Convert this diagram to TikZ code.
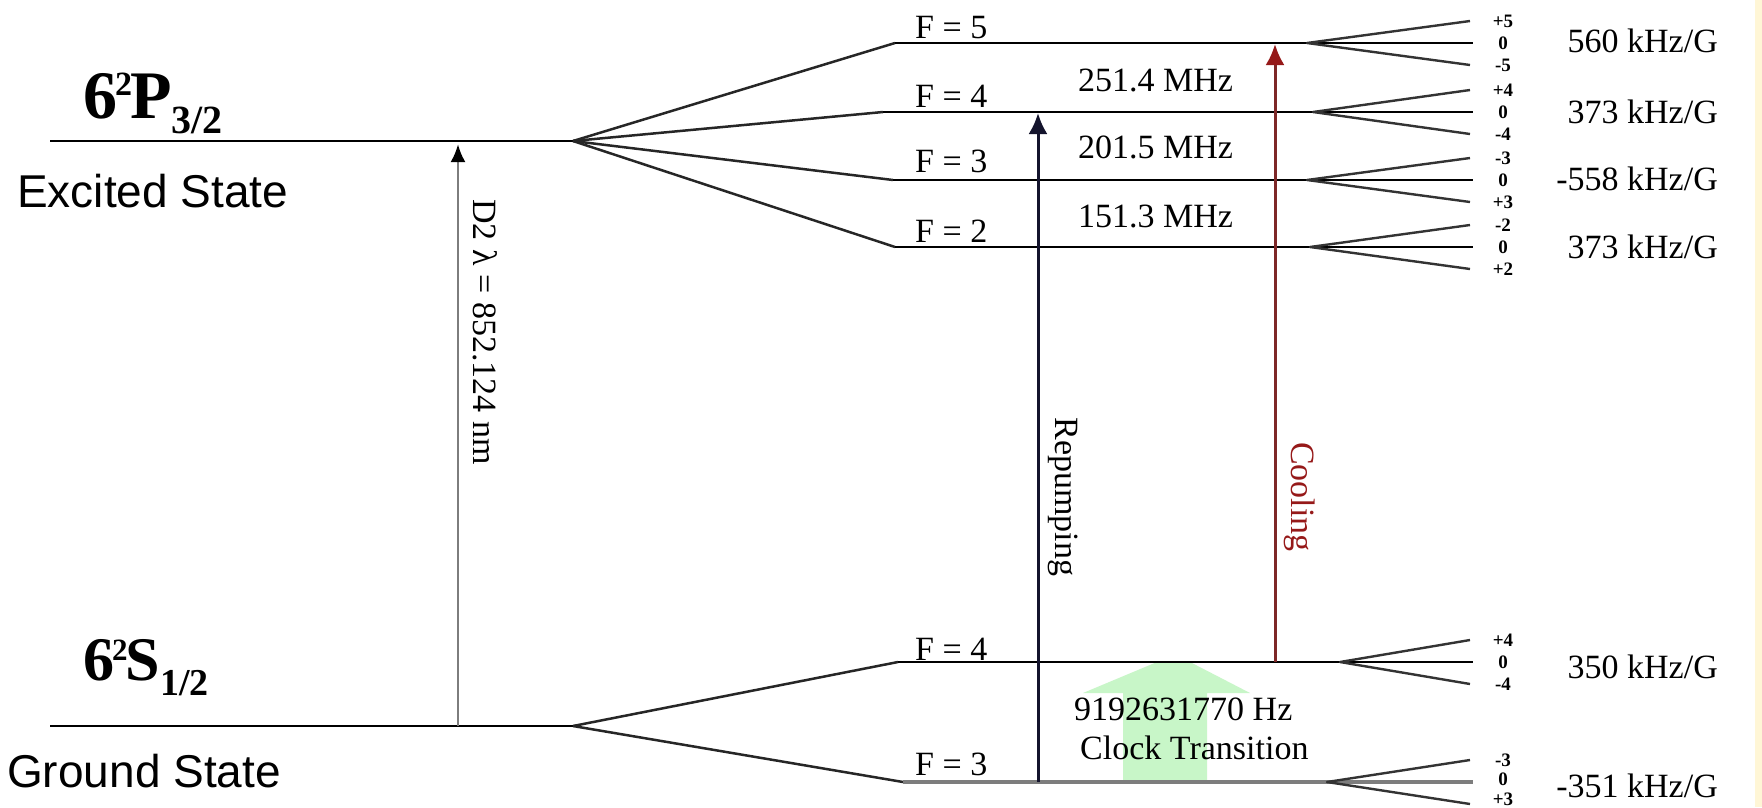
\documentclass[tikz,border=0pt]{standalone}
\usepackage{fontspec}
\setmainfont{Liberation Serif}
\newfontfamily\arialf{Liberation Sans}
\usetikzlibrary{arrows.meta}
\definecolor{clockgreen}{RGB}{200,246,200}
\definecolor{yellowstrip}{RGB}{255,246,214}
\definecolor{coolred}{RGB}{125,40,40}
\definecolor{coolhead}{RGB}{150,25,25}
\definecolor{repblue}{RGB}{20,20,45}
\definecolor{levgray}{RGB}{125,125,125}
\begin{document}
\begin{tikzpicture}[x=1pt,y=-1pt,
  lvl/.style={line width=2.8pt,black},
  lvlgray/.style={line width=3.2pt,levgray},
  fanline/.style={line width=2.5pt,black!85},
  zee/.style={line width=2.4pt,black!80,line join=round},
  lab/.style={inner sep=0,anchor=base west,font=\fontsize{34}{34}\selectfont},
  rlab/.style={inner sep=0,anchor=base east,font=\fontsize{34}{34}\selectfont},
  mf/.style={inner sep=0,font=\bfseries\fontsize{19}{19}\selectfont},
  statelab/.style={inner sep=0,anchor=base west,font=\arialf\fontsize{46}{46}\selectfont},
  vlab/.style={inner sep=0,rotate=-90,font=\fontsize{34}{34}\selectfont}]
\useasboundingbox (0,0) rectangle (1762,807);
\fill[white] (0,0) rectangle (1762,807);
\fill[yellowstrip] (1755,0) rectangle (1762,807);

% clock transition arrow (background)
\fill[clockgreen] (1123,782) -- (1123,693) -- (1083,693) -- (1157,662) -- (1190,662)
  -- (1250,693) -- (1207,693) -- (1207,782) -- cycle;

% coordinates of levels
\coordinate (P0) at (50,141);   \coordinate (Pf) at (573,141);
\coordinate (S0) at (50,726);   \coordinate (Sf) at (573,726);
\coordinate (F5-a) at (895,43);  \coordinate (F5-b) at (1473,43);
\coordinate (F4-a) at (883,112); \coordinate (F4-b) at (1473,112);
\coordinate (F3-a) at (893,180); \coordinate (F3-b) at (1473,180);
\coordinate (F2-a) at (895,247); \coordinate (F2-b) at (1473,247);
\coordinate (G4-a) at (898,662); \coordinate (G4-b) at (1473,662);
\coordinate (G3-a) at (903,782); \coordinate (G3-b) at (1473,782);

% fine structure levels
\draw[lvl] (P0) -- (Pf);
\draw[lvl] (S0) -- (Sf);
% hyperfine fans
\foreach \n in {F5,F4,F3,F2} {\draw[fanline] (Pf) -- (\n-a);}
\foreach \n in {G4,G3} {\draw[fanline] (Sf) -- (\n-a);}
% hyperfine levels
\foreach \n in {F5,F4,F3,F2,G4} {\draw[lvl] (\n-a) -- (\n-b);}
\draw[lvlgray] (G3-a) -- (G3-b);

% Zeeman fans and m_F labels
\foreach \n/\y/\xs/\up/\dn/\dz/\dy in {F5/43/1307/+5/-5/0/22, F4/112/1313/+4/-4/0/22,
    F3/180/1307/-3/+3/0/22, F2/247/1310/-2/+2/0/22, G4/662/1340/+4/-4/0/22, G3/782/1327/-3/+3/-3/17} {
  \coordinate (\n-z) at (\xs,\y);
  \coordinate (\n-u) at (1470,{\y-22});
  \coordinate (\n-d) at (1470,{\y+22});
  \draw[zee] (\n-u) -- (\n-z) -- (\n-d);
  \node[mf] (\n-mu) at (1503,{\y-22}) {\up};
  \node[mf] (\n-m0) at (1503,{\y+\dz}) {0};
  \node[mf] (\n-md) at (1503,{\y+\dy}) {\dn};
}

% transition arrows
\coordinate (d2s) at (458,726);  \coordinate (d2e) at (458,144);
\coordinate (rps) at (1038,782); \coordinate (rpe) at (1038,113);
\coordinate (cls) at (1275,662); \coordinate (cle) at (1275,44);
\draw[line width=2.8pt,levgray,-{Latex[length=18pt,width=15pt,color=black]}] (d2s) -- (d2e);
\draw[line width=3pt,repblue,-{Latex[length=21pt,width=19pt]}] (rps) -- (rpe);
\draw[line width=3pt,coolred,-{Latex[length=21pt,width=19pt,color=coolhead]}] (cls) -- (cle);

% left labels
\node[inner sep=0,anchor=base west] (plab) at (83,118)
  {\fontsize{68}{68}\selectfont\bfseries 6\kern-2pt\raisebox{23pt}{\fontsize{34}{34}\selectfont 2}\kern-2pt P\raisebox{-15pt}{\fontsize{40}{40}\selectfont 3/2}};
\node[statelab] (exc) at (17,207) {Excited State};
\node[inner sep=0,anchor=base west] (slab) at (83,680)
  {\fontsize{62}{62}\selectfont\bfseries 6\kern-2pt\raisebox{20pt}{\fontsize{31}{31}\selectfont 2}\kern-2pt S\raisebox{-15pt}{\fontsize{38}{38}\selectfont 1/2}};
\node[statelab] (gnd) at (7,787) {Ground State};

% F labels
\node[lab] (lF5) at (915,38) {F = 5};
\node[lab] (lF4) at (915,107) {F = 4};
\node[lab] (lF3) at (915,172) {F = 3};
\node[lab] (lF2) at (915,242) {F = 2};
\node[lab] (lG4) at (915,660) {F = 4};
\node[lab] (lG3) at (915,775) {F = 3};

% splittings
\node[lab] (s54) at (1078,91) {251.4 MHz};
\node[lab] (s43) at (1078,158) {201.5 MHz};
\node[lab] (s32) at (1078,227) {151.3 MHz};

% g-factors
\node[rlab] (g5) at (1718,52) {560 kHz/G};
\node[rlab] (g4) at (1718,123) {373 kHz/G};
\node[rlab] (g3) at (1718,190) {-558 kHz/G};
\node[rlab] (g2) at (1718,258) {373 kHz/G};
\node[rlab] (gg4) at (1718,678) {350 kHz/G};
\node[rlab] (gg3) at (1718,797) {-351 kHz/G};

% clock text
\node[lab] (clk1) at (1074,720) {9192631770 Hz};
\node[lab] (clk2) at (1080,759) {Clock Transition};

% vertical labels
\node[vlab] (d2lab) at (485,332) {D2 λ = 852.124 nm};
\node[vlab] (replab) at (1063,497) {Repumping};
\node[vlab,text=coolhead] (coollab) at (1300,497) {Cooling};
\end{tikzpicture}
\end{document}
